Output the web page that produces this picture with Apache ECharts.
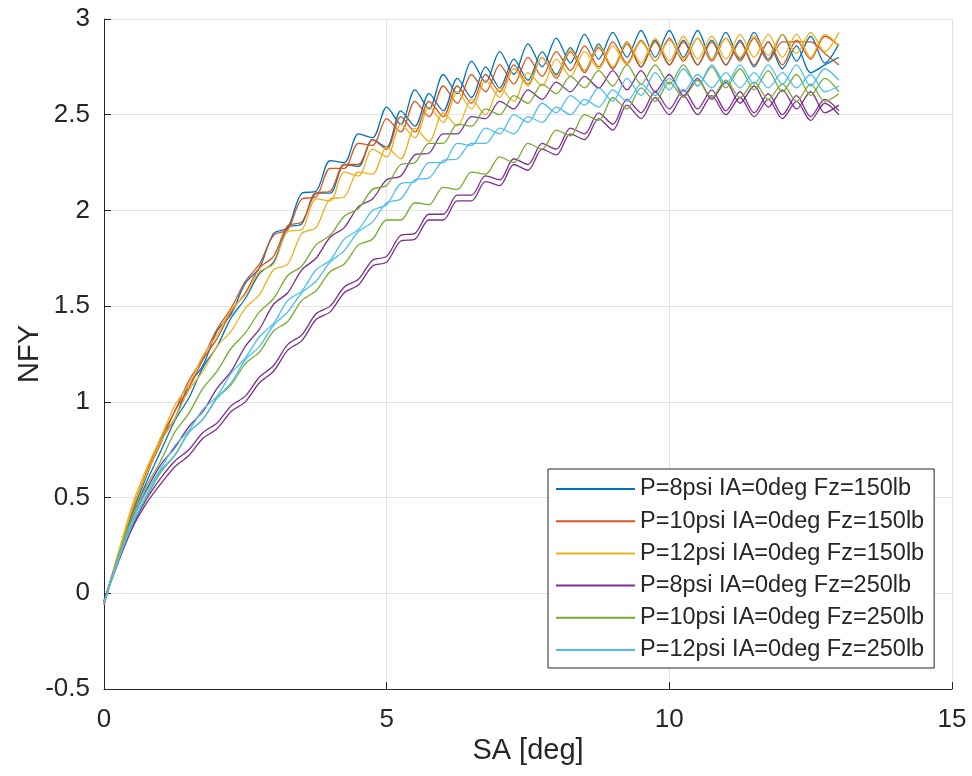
<!DOCTYPE html>
<html>
<head>
<meta charset="utf-8">
<script src="https://cdn.jsdelivr.net/npm/echarts@6/dist/echarts.min.js"></script>
<style>
html,body{margin:0;padding:0;background:#fff;}
#chart{width:972px;height:776px;}
</style>
</head>
<body>
<div id="chart"></div>
<script>
// Slip angle samples (deg)
const sa = [0,0.25,0.5,0.75,1,1.25,1.5,1.75,2,2.25,2.5,2.75,3,3.25,3.5,3.75,4,4.25,4.5,4.75,5,5.25,5.5,5.75,6,6.25,6.5,6.75,7,7.25,7.5,7.75,8,8.25,8.5,8.75,9,9.25,9.5,9.75,10,10.25,10.5,10.75,11,11.25,11.5,11.75,12,12.25,12.5,12.75,13];

// P=8psi Fz=150lb (two sweeps)
const nfy8_150a = [-0.05,0.19,0.42,0.61,0.80,0.91,1.09,1.19,1.37,1.46,1.62,1.70,1.88,1.91,2.09,2.10,2.26,2.25,2.40,2.38,2.54,2.45,2.63,2.53,2.71,2.61,2.78,2.67,2.83,2.71,2.87,2.75,2.90,2.77,2.92,2.79,2.93,2.80,2.94,2.80,2.94,2.80,2.94,2.79,2.93,2.79,2.93,2.79,2.92,2.78,2.91,2.77,2.87];
const nfy8_150b = [-0.05,0.18,0.40,0.58,0.74,0.90,1.02,1.18,1.29,1.44,1.54,1.67,1.73,1.91,1.93,2.09,2.09,2.24,2.23,2.37,2.33,2.52,2.44,2.61,2.52,2.69,2.59,2.75,2.64,2.79,2.68,2.83,2.71,2.85,2.73,2.87,2.74,2.88,2.75,2.89,2.76,2.89,2.76,2.89,2.76,2.89,2.75,2.88,2.74,2.86,2.72,2.76,2.80];
// P=10psi Fz=150lb
const nfy10_150a = [-0.06,0.20,0.44,0.63,0.81,0.95,1.11,1.23,1.38,1.49,1.63,1.72,1.87,1.90,2.06,2.07,2.22,2.22,2.35,2.34,2.48,2.41,2.57,2.49,2.65,2.56,2.71,2.62,2.76,2.66,2.80,2.70,2.83,2.73,2.86,2.75,2.88,2.77,2.89,2.78,2.90,2.78,2.90,2.78,2.90,2.78,2.90,2.78,2.88,2.88,2.88,2.82,2.76];
const nfy10_150b = [-0.06,0.20,0.43,0.62,0.78,0.95,1.07,1.22,1.33,1.47,1.57,1.70,1.76,1.92,1.94,2.09,2.10,2.24,2.24,2.37,2.32,2.49,2.41,2.57,2.49,2.65,2.56,2.71,2.62,2.76,2.66,2.80,2.69,2.83,2.72,2.85,2.74,2.87,2.75,2.88,2.76,2.88,2.76,2.88,2.76,2.88,2.76,2.88,2.76,2.89,2.79,2.91,2.86];
// P=12psi Fz=150lb
const nfy12_150a = [-0.05,0.20,0.44,0.62,0.79,0.91,1.06,1.16,1.29,1.37,1.49,1.56,1.69,1.72,1.88,1.91,2.06,2.07,2.20,2.19,2.33,2.27,2.43,2.36,2.51,2.44,2.58,2.50,2.64,2.57,2.72,2.65,2.79,2.70,2.83,2.74,2.86,2.76,2.88,2.78,2.89,2.79,2.90,2.79,2.90,2.80,2.91,2.81,2.92,2.82,2.93,2.83,2.93];
const nfy12_150b = [-0.05,0.21,0.46,0.65,0.81,0.98,1.09,1.24,1.35,1.48,1.56,1.68,1.72,1.89,1.90,2.06,2.05,2.20,2.18,2.32,2.28,2.45,2.38,2.54,2.46,2.62,2.53,2.68,2.59,2.74,2.65,2.80,2.70,2.84,2.73,2.86,2.75,2.88,2.77,2.90,2.78,2.91,2.79,2.91,2.79,2.92,2.80,2.92,2.80,2.92,2.80,2.92,2.86];
// P=8psi Fz=250lb (three sweeps)
const nfy8_250a = [-0.04,0.18,0.38,0.54,0.67,0.76,0.87,0.95,1.07,1.16,1.29,1.38,1.51,1.57,1.69,1.75,1.86,1.91,2.02,2.06,2.16,2.18,2.29,2.30,2.40,2.40,2.49,2.48,2.57,2.53,2.63,2.58,2.67,2.62,2.70,2.64,2.73,2.63,2.73,2.62,2.71,2.60,2.69,2.58,2.67,2.56,2.65,2.54,2.63,2.53,2.62,2.51,2.55];
const nfy8_250b = [-0.04,0.16,0.34,0.47,0.57,0.66,0.72,0.81,0.86,0.95,1.00,1.10,1.16,1.27,1.32,1.43,1.47,1.57,1.61,1.71,1.73,1.84,1.85,1.95,1.95,2.05,2.05,2.15,2.13,2.24,2.21,2.32,2.29,2.40,2.37,2.48,2.42,2.55,2.48,2.59,2.50,2.60,2.50,2.60,2.50,2.59,2.49,2.58,2.48,2.57,2.47,2.56,2.50];
const nfy8_250c = [-0.04,0.17,0.35,0.49,0.60,0.69,0.75,0.84,0.89,0.98,1.03,1.13,1.19,1.30,1.35,1.46,1.50,1.60,1.64,1.74,1.76,1.87,1.88,1.98,1.98,2.08,2.08,2.18,2.16,2.27,2.24,2.35,2.32,2.43,2.40,2.51,2.45,2.58,2.51,2.62,2.53,2.63,2.53,2.63,2.52,2.62,2.51,2.61,2.50,2.60,2.49,2.58,2.52];
// P=10psi Fz=250lb
const nfy10_250a = [-0.05,0.19,0.40,0.56,0.69,0.84,0.94,1.07,1.16,1.28,1.36,1.47,1.54,1.66,1.71,1.82,1.87,1.97,2.01,2.11,2.13,2.24,2.25,2.35,2.35,2.45,2.44,2.53,2.50,2.60,2.56,2.66,2.61,2.70,2.64,2.73,2.65,2.76,2.66,2.76,2.66,2.76,2.65,2.75,2.64,2.74,2.63,2.73,2.62,2.71,2.60,2.69,2.62];
const nfy10_250b = [-0.05,0.17,0.36,0.50,0.63,0.72,0.84,0.91,1.02,1.09,1.20,1.26,1.37,1.42,1.53,1.58,1.68,1.72,1.82,1.85,1.95,1.95,2.04,2.03,2.12,2.11,2.20,2.19,2.28,2.25,2.35,2.32,2.42,2.39,2.50,2.47,2.59,2.53,2.64,2.57,2.67,2.59,2.68,2.59,2.68,2.59,2.67,2.58,2.66,2.57,2.66,2.57,2.61];
// P=12psi Fz=250lb
const nfy12_250a = [-0.05,0.18,0.38,0.53,0.65,0.77,0.85,0.96,1.03,1.15,1.23,1.34,1.41,1.53,1.58,1.69,1.74,1.85,1.90,2.00,2.03,2.14,2.15,2.25,2.25,2.35,2.34,2.43,2.40,2.50,2.46,2.56,2.51,2.60,2.55,2.64,2.57,2.69,2.60,2.72,2.63,2.74,2.65,2.76,2.66,2.76,2.66,2.76,2.66,2.76,2.65,2.74,2.68];
const nfy12_250b = [-0.05,0.17,0.36,0.51,0.64,0.72,0.84,0.91,1.02,1.10,1.22,1.29,1.40,1.47,1.57,1.63,1.73,1.79,1.89,1.94,2.04,2.06,2.16,2.17,2.26,2.27,2.35,2.35,2.43,2.40,2.49,2.46,2.54,2.50,2.58,2.54,2.63,2.57,2.66,2.60,2.69,2.62,2.71,2.64,2.72,2.64,2.72,2.64,2.72,2.64,2.71,2.62,2.65];

const legendNames = [
  'P=8psi IA=0deg Fz=150lb',
  'P=10psi IA=0deg Fz=150lb',
  'P=12psi IA=0deg Fz=150lb',
  'P=8psi IA=0deg Fz=250lb',
  'P=10psi IA=0deg Fz=250lb',
  'P=12psi IA=0deg Fz=250lb'
];
const colors = ['#0072BD','#D95319','#EDB120','#7E2F8E','#77AC30','#4DBEEE'];
const xTicks = [0, 15, 5];   // min, max, interval
const yTicks = [-0.5, 3, 0.5];

const traces = [
  [0, nfy8_150a], [0, nfy8_150b],
  [1, nfy10_150a], [1, nfy10_150b],
  [2, nfy12_150a], [2, nfy12_150b],
  [3, nfy8_250a], [3, nfy8_250b], [3, nfy8_250c],
  [4, nfy10_250a], [4, nfy10_250b],
  [5, nfy12_250a], [5, nfy12_250b]
];

const series = traces.map(([k, ys]) => ({
  type: 'line',
  name: legendNames[k],
  data: sa.map((x, i) => [x, ys[i]]),
  showSymbol: false,
  symbol: 'none',
  smooth: 0.3,
  color: colors[k],
  itemStyle: { color: colors[k] },
  lineStyle: { color: colors[k], width: 1.3 },
  emphasis: { disabled: true },
  silent: true
}));

const axisColor = '#262626';
const font = 'Liberation Sans, Arial, Helvetica, sans-serif';

const chart = echarts.init(document.getElementById('chart'), null, { renderer: 'canvas' });
chart.setOption({
  animation: false,
  backgroundColor: '#ffffff',
  grid: { left: 104, right: 20, top: 19, bottom: 87, containLabel: false },
  xAxis: {
    type: 'value',
    min: xTicks[0], max: xTicks[1], interval: xTicks[2],
    name: 'SA [deg]',
    nameLocation: 'middle',
    nameGap: 47,
    nameMoveOverlap: false,
    nameTextStyle: { color: axisColor, fontSize: 29, fontFamily: font },
    axisLine: { show: true, onZero: false, lineStyle: { color: axisColor, width: 1 } },
    axisTick: { show: true, inside: true, length: 7, lineStyle: { color: axisColor } },
    axisLabel: { color: axisColor, fontSize: 26, fontFamily: font, margin: 18 },
    splitLine: { show: true, lineStyle: { color: '#e3e3e3', width: 1 } }
  },
  yAxis: {
    type: 'value',
    min: yTicks[0], max: yTicks[1], interval: yTicks[2],
    name: 'NFY',
    nameLocation: 'middle',
    nameGap: 60,
    nameMoveOverlap: false,
    nameTextStyle: { color: axisColor, fontSize: 29, fontFamily: font },
    axisLine: { show: true, onZero: false, lineStyle: { color: axisColor, width: 1 } },
    axisTick: { show: true, inside: true, length: 7, lineStyle: { color: axisColor } },
    axisLabel: { color: axisColor, fontSize: 26, fontFamily: font, margin: 14 },
    splitLine: { show: true, lineStyle: { color: '#e3e3e3', width: 1 } }
  },
  legend: {
    data: legendNames.map((n, k) => ({ name: n, icon: 'rect', itemStyle: { color: colors[k] } })),
    orient: 'vertical',
    left: 548,
    top: 469,
    itemWidth: 79,
    itemHeight: 2,
    itemGap: 6.2,
    padding: [7, 10, 5, 8],
    backgroundColor: '#ffffff',
    borderColor: '#262626',
    borderWidth: 1,
    borderRadius: 0,
    selectedMode: false,
    textStyle: { color: axisColor, fontSize: 23.5, fontFamily: font, lineHeight: 26 }
  },
  series: series
});
</script>
</body>
</html>
